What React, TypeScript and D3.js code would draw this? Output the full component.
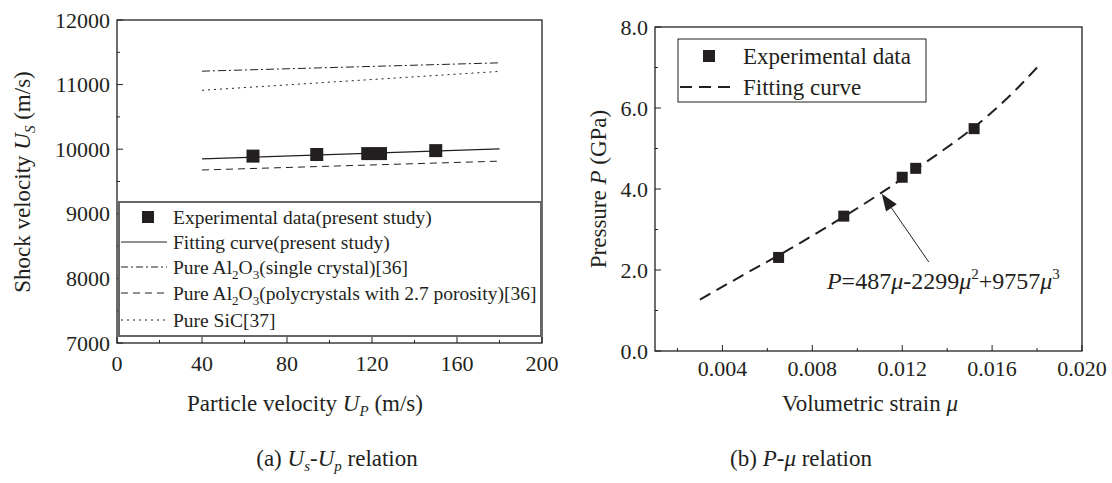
import React from 'react'
import * as d3 from 'd3'

// (a) Us-Up relation
const upExp = [64, 94, 118, 124, 150]
const usExp = [9893, 9918, 9932, 9932, 9978]
const upFitRange = [40, 180]
const usFit = [9850, 10005]
const usAlSingle = [11208, 11337]
const usAlPoly = [9678, 9815]
const usSiC = [10912, 11204]
const upTicks = [0, 40, 80, 120, 160, 200]
const upMinor = [20, 60, 100, 140, 180]
const usTicks = [7000, 8000, 9000, 10000, 11000, 12000]
const usMinor = [7500, 8500, 9500, 10500, 11500]

// (b) P-mu relation
const muExp = [0.0065, 0.0094, 0.012, 0.0126, 0.0152]
const pExp = [2.31, 3.33, 4.29, 4.51, 5.49]
const muFit = [0.003, 0.005, 0.007, 0.009, 0.011, 0.013, 0.015, 0.016, 0.017, 0.018]
const pFit = [1.27, 1.9, 2.52, 3.18, 3.88, 4.64, 5.44, 5.9, 6.42, 7.0]
const muTicks = [0.004, 0.008, 0.012, 0.016, 0.02]
const muMinor = [0.002, 0.006, 0.01, 0.014, 0.018]
const pTicks = [0, 2, 4, 6, 8]
const pMinor = [1, 3, 5, 7]

const FONT = 'Liberation Serif, Times New Roman, DejaVu Serif, serif'
const INK = '#231f20'

const App = () => {
    // panel (a) scales
    const xa = d3.scaleLinear().domain([0, 200]).range([117, 542])
    const ya = d3.scaleLinear().domain([7000, 12000]).range([343, 20])
    // panel (b) scales
    const xb = d3.scaleLinear().domain([0.001, 0.02]).range([655, 1082])
    const yb = d3.scaleLinear().domain([0, 8]).range([351, 27])

    const lineA = (ys: number[]) =>
        d3.line<number>().x((d, i) => xa(upFitRange[i])).y((d) => ya(d))(ys) || ''

    const fitB = d3.line<number>()
        .x((d, i) => xb(muFit[i]))
        .y((d) => yb(d))
        .curve(d3.curveMonotoneX)(pFit) || ''

    const frame = (x: any, y: any) => {
        const [x0, x1] = x.range()
        const [y1, y0] = y.range()
        return <rect x={x0} y={y0} width={x1 - x0} height={y1 - y0} fill="none" stroke={INK} strokeWidth={1.3} />
    }

    // arrow for the fitting formula
    const tail = [xb(0.01318), yb(2.2)]
    const tip = [xb(0.01109), yb(3.88)]
    const ang = Math.atan2(tip[1] - tail[1], tip[0] - tail[0])
    const hl = 17, hw = 6.5
    const base = [tip[0] - hl * Math.cos(ang), tip[1] - hl * Math.sin(ang)]
    const head = [
        tip,
        [base[0] + hw * Math.sin(ang), base[1] - hw * Math.cos(ang)],
        [base[0] - hw * Math.sin(ang), base[1] + hw * Math.cos(ang)],
    ]

    const legendA = [
        { dash: '', label: 'Fitting curve(present study)' },
        { dash: '7,3,2,3', label: 'single' },
        { dash: '7,5', label: 'poly' },
        { dash: '2,4', label: 'Pure SiC[37]' },
    ]
    const rowA = [217, 242, 267, 293, 320]

    const alText = (rest: string) => (
        <>
            Pure Al<tspan fontSize={13} dy={5}>2</tspan><tspan dy={-5}>O</tspan>
            <tspan fontSize={13} dy={5}>3</tspan><tspan dy={-5}>{rest}</tspan>
        </>
    )

    return (
        <svg width={1112} height={483}
            style={{ position: 'absolute', left: 0, top: 0, background: '#fff', fontFamily: FONT }}
            fill={INK}>
            {/* ---------- (a) ---------- */}
            {frame(xa, ya)}
            {upTicks.map((t) => (
                <g key={'xa' + t}>
                    <line x1={xa(t)} x2={xa(t)} y1={343} y2={337} stroke={INK} />
                    <text x={xa(t)} y={371} fontSize={22} textAnchor="middle">{t}</text>
                </g>
            ))}
            {upMinor.map((t) => <line key={'xam' + t} x1={xa(t)} x2={xa(t)} y1={343} y2={340} stroke={INK} />)}
            {usTicks.map((t) => (
                <g key={'ya' + t}>
                    <line x1={117} x2={123} y1={ya(t)} y2={ya(t)} stroke={INK} />
                    <text x={110} y={ya(t) + 7.5} fontSize={22} textAnchor="end">{t}</text>
                </g>
            ))}
            {usMinor.map((t) => <line key={'yam' + t} x1={117} x2={120} y1={ya(t)} y2={ya(t)} stroke={INK} />)}

            <path d={lineA(usAlSingle)} fill="none" stroke={INK} strokeWidth={1} strokeDasharray="8,3,2,3" />
            <path d={lineA(usSiC)} fill="none" stroke={INK} strokeWidth={1} strokeDasharray="2,4" />
            <path d={lineA(usFit)} fill="none" stroke={INK} strokeWidth={1.2} />
            <path d={lineA(usAlPoly)} fill="none" stroke={INK} strokeWidth={1} strokeDasharray="7,5" />
            {upExp.map((u, i) => (
                <rect key={'pa' + i} x={xa(u) - 6.5} y={ya(usExp[i]) - 6.5} width={13} height={13} fill={INK} />
            ))}

            {/* legend (a) */}
            <rect x={119} y={202} width={422} height={134} fill="#fff" stroke="#666" strokeWidth={2} />
            <rect x={142} y={rowA[0] - 6} width={12} height={12} fill={INK} />
            <text x={173} y={rowA[0] + 7} fontSize={19.5}>Experimental data(present study)</text>
            {legendA.map((l, i) => (
                <g key={'la' + i}>
                    <line x1={121} x2={167} y1={rowA[i + 1]} y2={rowA[i + 1]} stroke={INK} strokeWidth={1}
                        strokeDasharray={l.dash} />
                    <text x={173} y={rowA[i + 1] + 7} fontSize={19.5}>
                        {l.label === 'single' ? alText('(single crystal)[36]')
                            : l.label === 'poly' ? alText('(polycrystals with 2.7 porosity)[36]') : l.label}
                    </text>
                </g>
            ))}

            <text transform="translate(30,182) rotate(-90)" fontSize={23} textAnchor="middle">
                Shock velocity <tspan fontStyle="italic">U</tspan>
                <tspan fontStyle="italic" fontSize={15} dy={5}>S</tspan><tspan dy={-5}> (m/s)</tspan>
            </text>
            <text x={305} y={411} fontSize={23} textAnchor="middle">
                Particle velocity <tspan fontStyle="italic">U</tspan>
                <tspan fontStyle="italic" fontSize={15} dy={5}>P</tspan><tspan dy={-5}> (m/s)</tspan>
            </text>
            <text x={337} y={466} fontSize={23} textAnchor="middle">
                (a) <tspan fontStyle="italic">U</tspan><tspan fontStyle="italic" fontSize={15} dy={5}>s</tspan>
                <tspan dy={-5}>-</tspan><tspan fontStyle="italic">U</tspan>
                <tspan fontStyle="italic" fontSize={15} dy={5}>p</tspan><tspan dy={-5}> relation</tspan>
            </text>

            {/* ---------- (b) ---------- */}
            {frame(xb, yb)}
            {muTicks.map((t) => (
                <g key={'xb' + t}>
                    <line x1={xb(t)} x2={xb(t)} y1={351} y2={345} stroke={INK} />
                    <text x={xb(t)} y={376} fontSize={22} textAnchor="middle">{d3.format('.3f')(t)}</text>
                </g>
            ))}
            {muMinor.map((t) => <line key={'xbm' + t} x1={xb(t)} x2={xb(t)} y1={351} y2={348} stroke={INK} />)}
            {pTicks.map((t) => (
                <g key={'yb' + t}>
                    <line x1={655} x2={661} y1={yb(t)} y2={yb(t)} stroke={INK} />
                    <text x={648} y={yb(t) + 7.5} fontSize={22} textAnchor="end">{d3.format('.1f')(t)}</text>
                </g>
            ))}
            {pMinor.map((t) => <line key={'ybm' + t} x1={655} x2={658} y1={yb(t)} y2={yb(t)} stroke={INK} />)}

            <path d={fitB} fill="none" stroke={INK} strokeWidth={2} strokeDasharray="12,7" />
            {muExp.map((m, i) => (
                <rect key={'pb' + i} x={xb(m) - 5.5} y={yb(pExp[i]) - 5.5} width={11} height={11} fill={INK} />
            ))}

            <line x1={tail[0]} y1={tail[1]} x2={base[0]} y2={base[1]} stroke={INK} strokeWidth={1} />
            <polygon points={head.map((p) => p.join(',')).join(' ')} fill={INK} />
            <text x={xb(0.00865)} y={yb(1.59) + 2} fontSize={24}>
                <tspan fontStyle="italic">P</tspan>=487<tspan fontStyle="italic">μ</tspan>-2299
                <tspan fontStyle="italic">μ</tspan><tspan fontSize={15} dy={-10}>2</tspan>
                <tspan dy={10}>+9757</tspan><tspan fontStyle="italic">μ</tspan>
                <tspan fontSize={15} dy={-10}>3</tspan>
            </text>

            {/* legend (b) */}
            <rect x={678} y={39} width={248} height={63} fill="#fff" stroke={INK} strokeWidth={1} />
            <rect x={703} y={50} width={12} height={12} fill={INK} />
            <text x={743} y={64} fontSize={23}>Experimental data</text>
            <line x1={680} x2={736} y1={87} y2={87} stroke={INK} strokeWidth={2} strokeDasharray="12,7" />
            <text x={743} y={95} fontSize={23}>Fitting curve</text>

            <text transform="translate(606,189) rotate(-90)" fontSize={23} textAnchor="middle">
                Pressure <tspan fontStyle="italic">P</tspan> (GPa)
            </text>
            <text x={870} y={411} fontSize={23} textAnchor="middle">
                Volumetric strain <tspan fontStyle="italic">μ</tspan>
            </text>
            <text x={801} y={466} fontSize={23} textAnchor="middle">
                (b) <tspan fontStyle="italic">P</tspan>-<tspan fontStyle="italic">μ</tspan> relation
            </text>
        </svg>
    )
}

export default App
